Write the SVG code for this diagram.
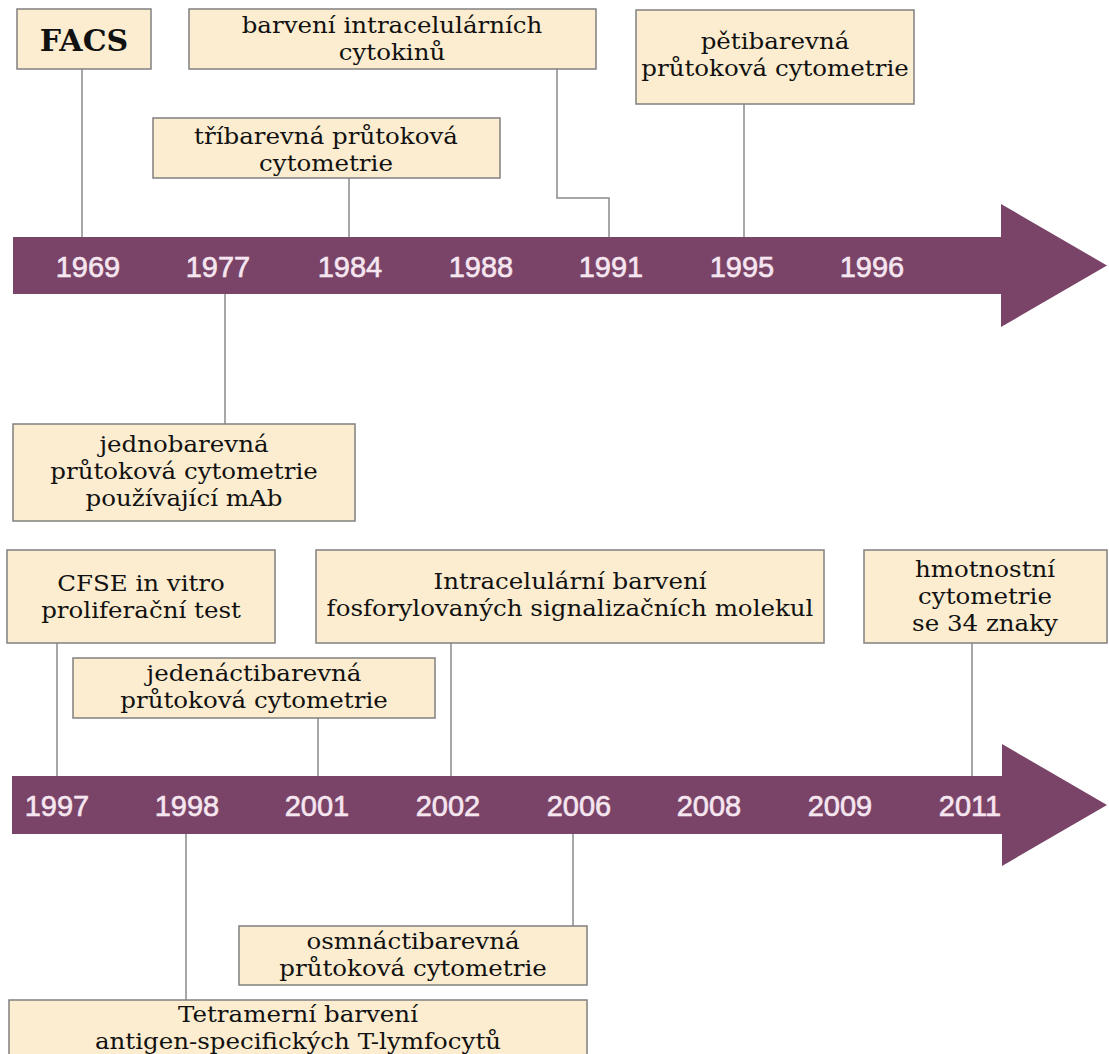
<svg xmlns="http://www.w3.org/2000/svg" width="1109" height="1054" viewBox="0 0 1109 1054">
<style>
.box{fill:#fcedd0;stroke:#808080;stroke-width:1.5}
.t{font-family:"DejaVu Serif","Liberation Serif",serif;font-size:22.5px;fill:#111;text-anchor:middle}
.big{font-size:30px;font-weight:bold}
.yr{font-family:"Liberation Sans",Arial,sans-serif;font-size:29px;fill:#f5e6f0;stroke:#f5e6f0;stroke-width:0.6;text-anchor:middle}
.bar{fill:#7a4468}
.c{fill:none;stroke:#8a8a8a;stroke-width:1.5}
</style>
<rect width="1109" height="1054" fill="#ffffff"/>
<g id="timeline1">
<polygon class="bar" points="13,237 1001,237 1001,204 1107,265.5 1001,327 1001,294 13,294"/>
<text class="yr" x="88" y="277">1969</text>
<text class="yr" x="218" y="277">1977</text>
<text class="yr" x="350" y="277">1984</text>
<text class="yr" x="481" y="277">1988</text>
<text class="yr" x="611" y="277">1991</text>
<text class="yr" x="742" y="277">1995</text>
<text class="yr" x="872" y="277">1996</text>
</g>
<g id="timeline2">
<polygon class="bar" points="12,776 1002,776 1002,744 1107,805 1002,866 1002,834 12,834"/>
<text class="yr" x="57" y="816">1997</text>
<text class="yr" x="187" y="816">1998</text>
<text class="yr" x="317" y="816">2001</text>
<text class="yr" x="448" y="816">2002</text>
<text class="yr" x="579" y="816">2006</text>
<text class="yr" x="709" y="816">2008</text>
<text class="yr" x="840" y="816">2009</text>
<text class="yr" x="970" y="816">2011</text>
</g>
<g id="connectors">
<line class="c" x1="82" y1="69" x2="82" y2="237"/>
<line class="c" x1="349" y1="178" x2="349" y2="237"/>
<polyline class="c" points="557,69 557,198 609,198 609,237"/>
<line class="c" x1="744" y1="104" x2="744" y2="237"/>
<line class="c" x1="225" y1="294" x2="225" y2="424"/>
<line class="c" x1="57" y1="643" x2="57" y2="776"/>
<line class="c" x1="318" y1="718" x2="318" y2="776"/>
<line class="c" x1="451" y1="643" x2="451" y2="776"/>
<line class="c" x1="972" y1="643" x2="972" y2="776"/>
<line class="c" x1="186" y1="834" x2="186" y2="1000"/>
<line class="c" x1="573" y1="834" x2="573" y2="926"/>
</g>
<g id="n-facs">
<rect class="box" x="17" y="9" width="134" height="60"/>
<text class="t big" x="84" y="51">FACS</text>
</g>
<g id="n-cytokiny">
<rect class="box" x="189" y="9" width="407" height="60"/>
<text class="t" transform="matrix(1.09 0 0 1 392 0)" x="0" y="33">barvení intracelulárních</text>
<text class="t" transform="matrix(1.09 0 0 1 392 0)" x="0" y="60">cytokinů</text>
</g>
<g id="n-tribarevna">
<rect class="box" x="153" y="118" width="347" height="60"/>
<text class="t" transform="matrix(1.09 0 0 1 326 0)" x="0" y="144">tříbarevná průtoková</text>
<text class="t" transform="matrix(1.09 0 0 1 326 0)" x="0" y="171">cytometrie</text>
</g>
<g id="n-petibarevna">
<rect class="box" x="636" y="10" width="278" height="94"/>
<text class="t" transform="matrix(1.09 0 0 1 775 0)" x="0" y="49">pětibarevná</text>
<text class="t" transform="matrix(1.09 0 0 1 775 0)" x="0" y="76">průtoková cytometrie</text>
</g>
<g id="n-jednobarevna">
<rect class="box" x="13" y="424" width="342" height="97"/>
<text class="t" transform="matrix(1.09 0 0 1 184 0)" x="0" y="452">jednobarevná</text>
<text class="t" transform="matrix(1.09 0 0 1 184 0)" x="0" y="479">průtoková cytometrie</text>
<text class="t" transform="matrix(1.09 0 0 1 184 0)" x="0" y="506">používající mAb</text>
</g>
<g id="n-cfse">
<rect class="box" x="7" y="550" width="268" height="93"/>
<text class="t" transform="matrix(1.09 0 0 1 141 0)" x="0" y="591">CFSE in vitro</text>
<text class="t" transform="matrix(1.09 0 0 1 141 0)" x="0" y="618">proliferační test</text>
</g>
<g id="n-jedenacti">
<rect class="box" x="73" y="658" width="362" height="60"/>
<text class="t" transform="matrix(1.09 0 0 1 254 0)" x="0" y="681">jedenáctibarevná</text>
<text class="t" transform="matrix(1.09 0 0 1 254 0)" x="0" y="708">průtoková cytometrie</text>
</g>
<g id="n-intracel">
<rect class="box" x="316" y="550" width="508" height="93"/>
<text class="t" transform="matrix(1.09 0 0 1 570 0)" x="0" y="589">Intracelulární barvení</text>
<text class="t" transform="matrix(1.09 0 0 1 570 0)" x="0" y="616">fosforylovaných signalizačních molekul</text>
</g>
<g id="n-hmotnostni">
<rect class="box" x="864" y="550" width="243" height="93"/>
<text class="t" transform="matrix(1.09 0 0 1 985 0)" x="0" y="577">hmotnostní</text>
<text class="t" transform="matrix(1.09 0 0 1 985 0)" x="0" y="604">cytometrie</text>
<text class="t" transform="matrix(1.09 0 0 1 985 0)" x="0" y="631">se 34 znaky</text>
</g>
<g id="n-osmnacti">
<rect class="box" x="239" y="926" width="348" height="59"/>
<text class="t" transform="matrix(1.09 0 0 1 413 0)" x="0" y="949">osmnáctibarevná</text>
<text class="t" transform="matrix(1.09 0 0 1 413 0)" x="0" y="976">průtoková cytometrie</text>
</g>
<g id="n-tetramer">
<rect class="box" x="9" y="1000" width="578" height="62"/>
<text class="t" transform="matrix(1.09 0 0 1 298 0)" x="0" y="1022">Tetramerní barvení</text>
<text class="t" transform="matrix(1.09 0 0 1 298 0)" x="0" y="1049">antigen-specifických T-lymfocytů</text>
</g>
</svg>
